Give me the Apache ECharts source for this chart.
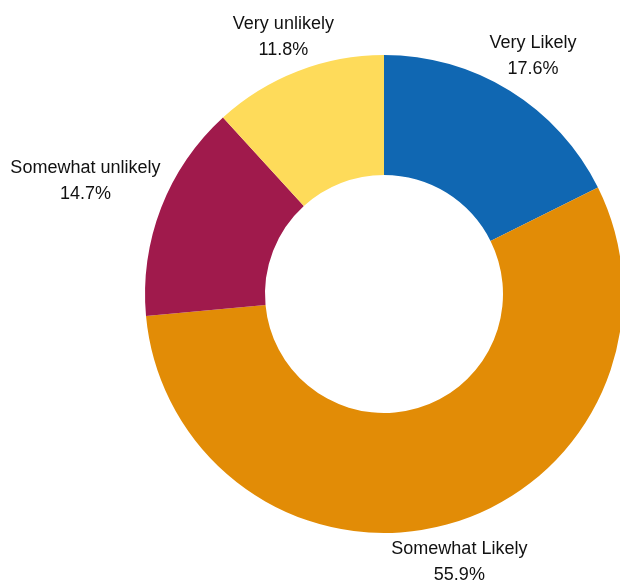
<!DOCTYPE html>
<html>
<head>
<meta charset="utf-8">
<script src="https://cdn.jsdelivr.net/npm/echarts@6/dist/echarts.min.js"></script>
<style>html,body{margin:0;padding:0;background:#fff;}#c{width:620px;height:585px;}</style>
</head>
<body>
<div id="c"></div>
<script>
const categories = ['Very Likely', 'Somewhat Likely', 'Somewhat unlikely', 'Very unlikely'];
const counts = [6, 19, 5, 4];
const colors = ['#1067b2', '#e28c06', '#a01a4c', '#fedb5a'];

const CX = 384, CY = 294, R0 = 119, R1 = 239, GAP = 3, LABEL_SHIFT_Y = 3;
const total = counts.reduce((a, b) => a + b, 0);
const midAngles = [];
let acc = 0;
counts.forEach(v => { midAngles.push((acc + v / 2) / total * 2 * Math.PI); acc += v; });

const chart = echarts.init(document.getElementById('c'), null, {renderer: 'canvas'});
chart.setOption({
  animation: false,
  series: [{
    type: 'pie',
    center: [CX, CY],
    radius: [R0, R1],
    startAngle: 90,
    clockwise: true,
    avoidLabelOverlap: false,
    itemStyle: {borderWidth: 0},
    label: {
      show: true,
      position: 'inside',
      formatter: p => p.name + '\n' + (p.value / total * 100).toFixed(1) + '%',
      fontFamily: 'Liberation Sans, Arial, sans-serif',
      fontSize: 18,
      lineHeight: 26,
      color: '#111',
      align: 'center',
      verticalAlign: 'middle'
    },
    labelLine: {show: false},
    emphasis: {disabled: true},
    labelLayout: function (params) {
      const i = params.dataIndex;
      const a = midAngles[i];
      const r = params.labelRect;
      const ux = Math.sin(a), uy = -Math.cos(a);
      const hw = r.width / 2, hh = (r.height - 6) / 2;
      const cx = (ux >= 0 ? -hw : hw), cy = (uy >= 0 ? -hh : hh);
      const Rg = R1 + GAP;
      const b = 2 * (ux * cx + uy * cy);
      const c = cx * cx + cy * cy - Rg * Rg;
      const d = (-b + Math.sqrt(b * b - 4 * c)) / 2;
      return {x: CX + ux * d, y: CY + uy * d + LABEL_SHIFT_Y, align: 'center', verticalAlign: 'middle'};
    },
    data: categories.map((n, i) => ({name: n, value: counts[i], itemStyle: {color: colors[i]}}))
  }]
});
</script>
</body>
</html>
